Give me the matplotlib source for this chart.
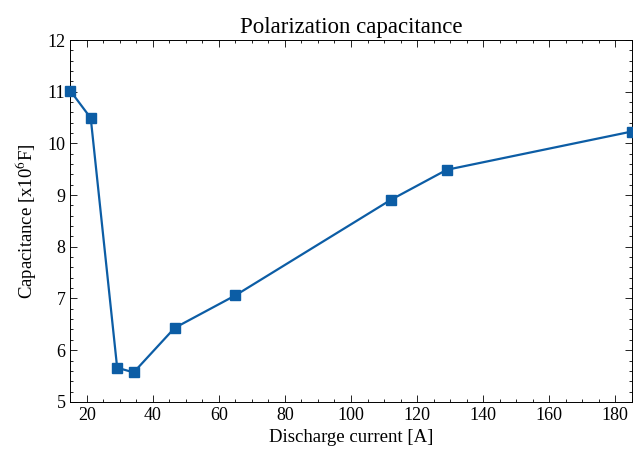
"""Polarization capacitance vs discharge current."""

import matplotlib

matplotlib.use("Agg")

import matplotlib.pyplot as plt  # noqa: E402
from matplotlib.ticker import MultipleLocator  # noqa: E402

current = [15.0, 21.2, 29.2, 34.2, 46.6, 65.0, 112.1, 129.0, 185.0]
capacitance = [11.02, 10.49, 5.66, 5.57, 6.43, 7.06, 8.91, 9.49, 10.23]

plt.rcParams["font.family"] = ["Liberation Serif", "DejaVu Serif"]
plt.rcParams["mathtext.fontset"] = "stix"

figure = plt.figure(figsize=(6.33, 4.5), dpi=100)
axes = figure.add_axes([0.111, 0.107, 0.887, 0.804])

axes.plot(current, capacitance, color="#0C5DA5", linewidth=1.6,
          marker="s", markersize=6.5, clip_on=False, zorder=3)

axes.set_xlim(15, 185)
axes.set_ylim(5, 12)
axes.xaxis.set_major_locator(MultipleLocator(20))
axes.xaxis.set_minor_locator(MultipleLocator(5))
axes.yaxis.set_major_locator(MultipleLocator(1))
axes.yaxis.set_minor_locator(MultipleLocator(0.2))
axes.tick_params(which="both", direction="in", top=True, right=True,
                 labelsize=13, width=0.6)
axes.tick_params(which="major", length=5)
axes.tick_params(which="minor", length=2.5)
for spine in axes.spines.values():
    spine.set_linewidth(0.7)

axes.set_title("Polarization capacitance", fontsize=16.5, pad=5)
axes.set_xlabel("Discharge current [A]", fontsize=13.5, labelpad=4)
axes.set_ylabel("Capacitance [x10$^6$F]", fontsize=13.5, labelpad=6)

figure.savefig("out.png", dpi=100)
plt.close(figure)
